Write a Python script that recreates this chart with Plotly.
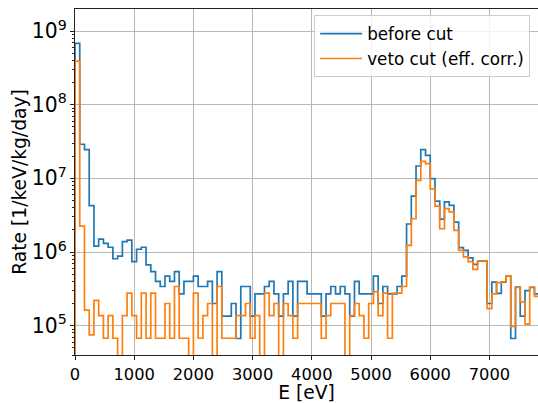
import numpy as np
import plotly.graph_objects as go

# 80 eV bins, 0 .. 7840 eV
bin_width = 80
n_bins = 98
bin_edges = [i * bin_width for i in range(n_bins + 1)]

before_cut = [
    6.8e8, 2.9e7, 2.45e7, 4.25e6, 1.2e6, 1.5e6, 1.31e6, 1.16e6, 8.1e5, 8.8e5,
    1.38e6, 1.45e6, 7.4e5, 1.09e6, 1.16e6, 6.7e5, 5.4e5, 4.0e5, 3.4e5, 4.7e5,
    4.0e5, 5.4e5, 2.7e5, 4.0e5, 4.0e5, 4.7e5, 3.4e5, 3.4e5, 4.0e5, 2.0e5,
    5.4e5, 1.35e5, 1.35e5, 2.0e5, 6.7e4, 3.4e5, 3.4e5, 1.35e5, 2.7e5, 2.7e5,
    3.4e5, 4.0e5, 2.7e5, 1.35e5, 2.7e5, 4.0e5, 1.35e5, 4.0e5, 4.0e5, 2.7e5,
    2.7e5, 2.7e5, 1.35e5, 2.7e5, 3.4e5, 2.7e5, 3.4e5, 2.7e5, 1.35e5, 4.0e5,
    2.7e5, 2.7e5, 2.7e5, 4.7e5, 2.0e5, 3.4e5, 2.7e5, 2.7e5, 3.4e5, 4.7e5,
    2.4e6, 5.75e6, 1.47e7, 2.45e7, 2.05e7, 9.9e6, 4.9e6, 2.8e6, 4.8e6, 4.3e6,
    2.55e6, 1.15e6, 1.05e6, 8.3e5, 6.8e5, 7.5e5, 7.5e5, 2.0e5, 3.9e5, 2.75e5,
    3.9e5, 4.7e5, 6.7e4, 3.35e5, 1.35e5, 3.0e5, 3.3e5, 2.7e5,
]

veto_cut = [
    3.9e8, 2.25e6, 1.63e5, 7.5e4, 2.2e5, 1.37e5, 6.75e4, 1.37e5, 6.75e4, 0,
    1.37e5, 2.76e5, 1.37e5, 6.75e4, 2.76e5, 6.75e4, 2.76e5, 6.75e4, 6.75e4, 2.0e5,
    6.75e4, 3.4e5, 6.75e4, 6.75e4, 0, 2.76e5, 6.75e4, 1.37e5, 2.0e5, 0,
    3.4e5, 6.75e4, 6.75e4, 6.75e4, 1.37e5, 1.37e5, 2.0e5, 6.75e4, 1.37e5, 0,
    2.76e5, 1.37e5, 2.0e5, 0, 2.0e5, 1.37e5, 6.75e4, 2.0e5, 2.0e5, 2.0e5,
    2.0e5, 2.0e5, 6.75e4, 1.37e5, 2.0e5, 2.0e5, 2.0e5, 0, 1.37e5, 2.0e5,
    1.37e5, 6.75e4, 2.0e5, 2.9e5, 1.37e5, 2.76e5, 6.75e4, 2.76e5, 2.76e5, 3.4e5,
    1.23e6, 2.83e6, 9.4e6, 1.7e7, 1.58e7, 7.2e6, 4.2e6, 2.07e6, 3.87e6, 3.5e6,
    1.97e6, 1.05e6, 8.6e5, 7.4e5, 5.8e5, 7.55e5, 7.55e5, 1.7e5, 2.7e5, 3.85e5,
    3.95e5, 4.75e5, 9.8e4, 3.3e5, 2.1e5, 1.05e5, 3.35e5, 2.5e5,
]

x_ticks = [0, 1000, 2000, 3000, 4000, 5000, 6000, 7000]

FLOOR = 1.0  # empty bins are drawn below the visible range (log axis)


def step_xy(edges, vals):
    v = [val if val > 0 else FLOOR for val in vals]
    xs = [edges[0]] + list(edges)
    ys = [FLOOR] + v + [v[-1]]
    return xs, ys


fig = go.Figure()
for name, vals, color in [("before cut", before_cut, "#1f77b4"),
                          ("veto cut (eff. corr.)", veto_cut, "#ff7f0e")]:
    xs, ys = step_xy(bin_edges, vals)
    fig.add_trace(go.Scatter(x=xs, y=ys, mode="lines", name=name,
                             line=dict(color=color, width=1.7, shape="hv")))

font_family = "DejaVu Sans"
fig.update_layout(
    width=538, height=403,
    margin=dict(l=75, r=0, t=9, b=48),
    paper_bgcolor="white", plot_bgcolor="white",
    font=dict(family=font_family, size=16.3, color="black"),
    showlegend=True,
    legend=dict(x=0.983, y=0.982, xanchor="right", yanchor="top",
                bgcolor="rgba(255,255,255,0.8)", bordercolor="#cccccc",
                borderwidth=1, font=dict(family=font_family, size=16.8),
                tracegroupgap=0, itemwidth=42),
)
fig.update_xaxes(
    automargin=False,
    range=[0, 7820], tickmode="array", tickvals=x_ticks,
    ticktext=[str(t) for t in x_ticks],
    showgrid=True, gridcolor="#b8b8b8", gridwidth=1,
    showline=True, linecolor="#222222", linewidth=1, mirror=True,
    ticks="outside", ticklen=4, tickwidth=1, tickcolor="#222222",
    zeroline=False,
    title=dict(text="E [eV]", font=dict(size=18.7), standoff=6),
    tickfont=dict(size=16.3),
)
fig.update_yaxes(
    automargin=False,
    type="log", range=[4.602, 9.2986], dtick=1,
    exponentformat="power", showexponent="all",
    showgrid=True, gridcolor="#b8b8b8", gridwidth=1,
    showline=True, linecolor="#222222", linewidth=1,
    ticks="outside", ticklen=4, tickwidth=1, tickcolor="#222222",
    minor=dict(ticks="outside", ticklen=2, tickwidth=0.7, tickcolor="#222222",
               showgrid=False, dtick="D1"),
    zeroline=False,
    title=dict(text="Rate [1/keV/kg/day]", font=dict(size=18.7), standoff=0),
    tickfont=dict(size=16.3),
)

fig.write_html("out.html",
               config={"displayModeBar": False},
               post_script="document.body.style.margin='0';"
                           "document.body.style.padding='0';")
